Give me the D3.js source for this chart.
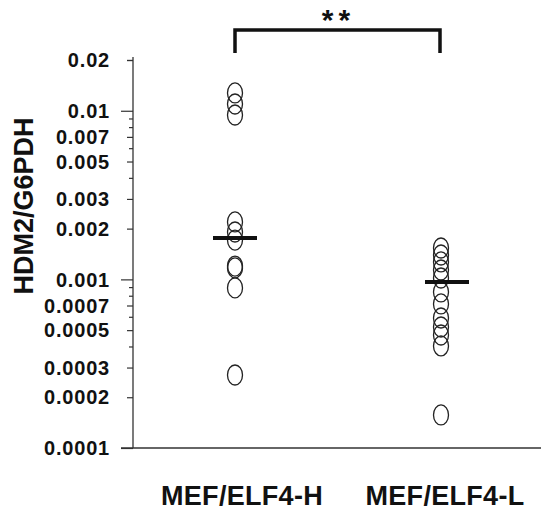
<!DOCTYPE html>
<html>
<head>
<meta charset="utf-8">
<script src="https://cdn.jsdelivr.net/npm/d3@7"></script>
<style>
  html, body { margin: 0; padding: 0; background: #fff; }
  svg { display: block; }
  text { font-family: "Liberation Sans", Arial, sans-serif; font-weight: bold; fill: #111; }
</style>
</head>
<body>
<svg id="chart" width="541" height="515"></svg>
<script>
const categories = ["MEF/ELF4-H", "MEF/ELF4-L"];
const valuesH = [0.01275, 0.01097, 0.00944, 0.00219, 0.00191, 0.00171, 0.00120, 0.00117, 0.00089, 0.000271];
const valuesL = [0.001535, 0.001395, 0.001269, 0.001137, 0.001019, 0.000842, 0.000715, 0.000590, 0.000522, 0.000468, 0.000403, 0.000157];
const medians = [0.00176, 0.000965];
const tickLabels = ["0.0001", "0.0002", "0.0003", "0.0005", "0.0007", "0.001", "0.002", "0.003", "0.005", "0.007", "0.01", "0.02"];
const yTitle = "HDM2/G6PDH";
const significance = "**";

const svg = d3.select("#chart");

const y = d3.scaleLog().domain([0.0001, 0.02]).range([448, 60]);
const x = d3.scalePoint().domain(categories).range([235, 441]);

// y axis ticks (all 1..9 multiples per decade)
const allTicks = [];
[0.0001, 0.001, 0.01].forEach(d => { for (let k = 1; k <= 9; k++) { const v = +(d * k).toPrecision(2); if (v <= 0.02) allTicks.push(v); } });
allTicks.push(0.02);
const labelSet = new Set(tickLabels.map(Number));
const decades = new Set([0.0001, 0.001, 0.01]);

const axisX = 133;
const yAxis = d3.axisLeft(y)
  .tickValues(allTicks)
  .tickSize(0)
  .tickFormat("");
const gAxis = svg.append("g").attr("transform", `translate(${axisX},0)`).call(yAxis);
gAxis.select(".domain").remove();
gAxis.selectAll(".tick line").remove();
gAxis.selectAll(".tick").append("line")
  .attr("x1", d => decades.has(d) ? -12 : (labelSet.has(d) ? -6 : -4))
  .attr("x2", 0)
  .attr("stroke", "#333").attr("stroke-width", 1.2);

// axis lines
svg.append("line").attr("x1", axisX).attr("x2", axisX).attr("y1", y(0.02) - 3).attr("y2", y(0.0001))
  .attr("stroke", "#333").attr("stroke-width", 1.3);
svg.append("line").attr("x1", 121).attr("x2", 541).attr("y1", y(0.0001)).attr("y2", y(0.0001))
  .attr("stroke", "#333").attr("stroke-width", 1.3);

// tick labels
svg.append("g").selectAll("text").data(tickLabels).join("text")
  .attr("x", 110)
  .attr("y", d => y(+d))
  .attr("dy", "0.36em")
  .attr("text-anchor", "end")
  .attr("font-size", 20)
  .attr("letter-spacing", 0.8)
  .text(d => d);

// y title
svg.append("text")
  .attr("transform", "translate(33,206) rotate(-90)")
  .attr("text-anchor", "middle")
  .attr("font-size", 27)
  .text(yTitle);

// x labels
svg.append("g").selectAll("text").data(categories).join("text")
  .attr("x", (d, i) => x(d) + (i === 0 ? 7 : 4))
  .attr("y", 505)
  .attr("text-anchor", "middle")
  .attr("font-size", 27)
  .attr("letter-spacing", 0.3)
  .text(d => d);

// points
const series = [valuesH, valuesL];
series.forEach((vals, i) => {
  svg.append("g").selectAll("ellipse").data(vals).join("ellipse")
    .attr("cx", x(categories[i]))
    .attr("cy", d => y(d))
    .attr("rx", 7.5)
    .attr("ry", 10)
    .attr("fill", "none")
    .attr("stroke", "#222")
    .attr("stroke-width", 1.3);
});

// median bars
svg.append("g").selectAll("line").data(medians).join("line")
  .attr("x1", (d, i) => x(categories[i]) - 22 + (i === 1 ? 6 : 0))
  .attr("x2", (d, i) => x(categories[i]) + 22 + (i === 1 ? 6 : 0))
  .attr("y1", d => y(d)).attr("y2", d => y(d))
  .attr("stroke", "#111").attr("stroke-width", 4);

// significance bracket
const bx1 = x(categories[0]), bx2 = x(categories[1]) - 1;
svg.append("path")
  .attr("d", `M${bx1},53 V30 H${bx2} V53`)
  .attr("fill", "none").attr("stroke", "#111").attr("stroke-width", 3.5);
svg.append("text")
  .attr("x", (bx1 + bx2) / 2 + 1)
  .attr("y", 30)
  .attr("text-anchor", "middle")
  .attr("font-size", 30)
  .attr("letter-spacing", 5)
  .text(significance);
</script>
</body>
</html>
